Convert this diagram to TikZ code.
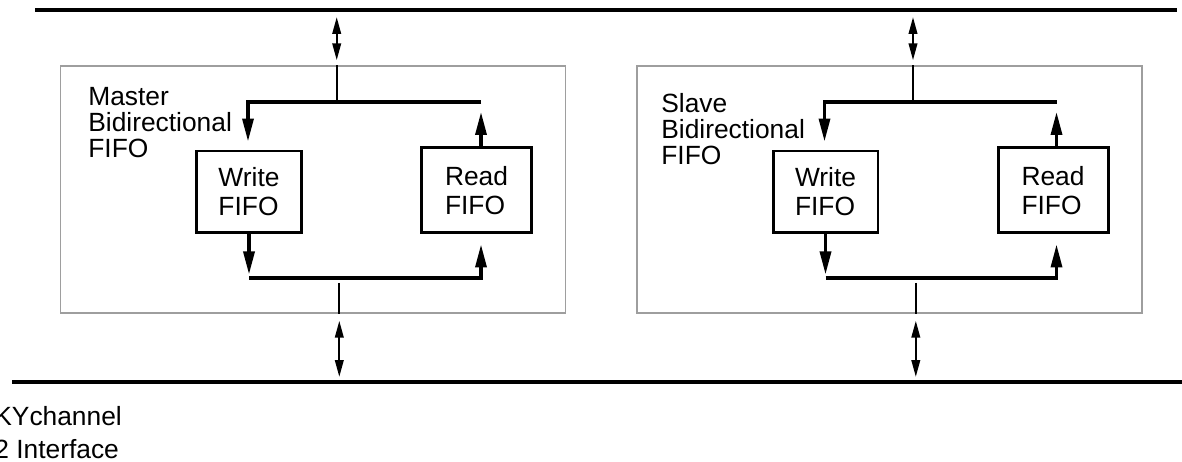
\documentclass[tikz,border=0pt]{standalone}
\usepackage{fontspec}
\setmainfont{Liberation Sans}
\usetikzlibrary{arrows.meta,calc}

\begin{document}
\begin{tikzpicture}[x=0.02cm,y=-0.02cm,
    bus/.style={line width=2.2pt},
    link/.style={line width=1.9pt},
    tap/.style={line width=1.3pt},
    unit node/.style={rectangle,draw=black!38,line width=0.8pt,minimum width=10.1cm,minimum height=4.94cm,inner sep=0pt},
    fifo node/.style={rectangle,draw,line width=1.7pt,minimum height=1.64cm,align=left,inner sep=0pt,font=\fontsize{15}{16.5}\selectfont},
    label node/.style={anchor=north west,align=left,inner sep=0pt,font=\fontsize{15}{14.8}\selectfont},
    down/.style={-{Triangle[length=0.46cm,width=0.22cm]}},
    both/.style={{Triangle[length=0.34cm,width=0.17cm]}-{Triangle[length=0.34cm,width=0.17cm]}}]

  \useasboundingbox (0,0) rectangle (1182,462);

  % buses
  \coordinate (tw) at (35,10);
  \coordinate (te) at (1177,10);
  \coordinate (bw) at (12,382);
  \coordinate (be) at (1182,382);
  \draw[bus] (tw) -- (te);
  \draw[bus] (bw) -- (be);

  % master side
  \node[unit node] (master) at (313,189.5) {};
  \node[label node] (mlabel) at (88,86.7) {Master\\Bidirectional\\FIFO};
  \node[fifo node,minimum width=2.09cm] (mwrite) at (249,192) {Write\\FIFO};
  \node[fifo node,minimum width=2.2cm,minimum height=1.71cm] (mread) at (476.5,190.2) {Read\\FIFO};
  \coordinate (mjt) at (336.7,102);
  \coordinate (mjb) at (339.3,278);
  \coordinate (mrx) at ($(mread.north)+(4.5,0)$);

  \draw[both,tap] ($(mjt |- tw)+(0,7)$) -- ($(mjt |- master.north)+(0,-5)$);
  \draw[tap] (mjt |- master.north) -- (mjt);
  \draw[link,down] (mrx |- mjt) -| ($(mwrite.north)+(-1,-8)$);
  \draw[link,down] (mrx) -- ++(0,-34);
  \draw[link,down] (mwrite.south) -- ++(0,40);
  \draw[link,down] (mwrite.south |- mjb) -| ($(mrx |- mread.south)+(0,10)$);
  \draw[tap] ($(mjb)+(0,5)$) -- (mjb |- master.south);
  \draw[both,tap] ($(mjb |- master.south)+(0,7)$) -- ($(mjb |- bw)+(0,-5)$);

  % slave side
  \node[unit node] (slave) at (889.5,189.5) {};
  \node[label node] (slabel) at (661,93) {Slave\\Bidirectional\\FIFO};
  \node[fifo node,minimum width=2.1cm] (swrite) at (825.5,192) {Write\\FIFO};
  \node[fifo node,minimum width=2.2cm,minimum height=1.71cm] (sread) at (1053,190.2) {Read\\FIFO};
  \coordinate (sjt) at (913,102);
  \coordinate (sjb) at (915.8,278);
  \coordinate (srx) at ($(sread.north)+(3.5,0)$);

  \draw[both,tap] ($(sjt |- tw)+(0,7)$) -- ($(sjt |- slave.north)+(0,-5)$);
  \draw[tap] (sjt |- slave.north) -- (sjt);
  \draw[link,down] (srx |- sjt) -| ($(swrite.north)+(-1,-8)$);
  \draw[link,down] (srx) -- ++(0,-34);
  \draw[link,down] (swrite.south) -- ++(0,40);
  \draw[link,down] (swrite.south |- sjb) -| ($(srx |- sread.south)+(0,10)$);
  \draw[tap] ($(sjb)+(0,5)$) -- (sjb |- slave.south);
  \draw[both,tap] ($(sjb |- slave.south)+(0,7)$) -- ($(sjb |- bw)+(0,-5)$);

  % interface label, cut at the left edge
  \node[label node,font=\fontsize{15}{18.8}\selectfont] (iface) at (-6,406.5) {KYchannel\\2 Interface};
\end{tikzpicture}
\end{document}
